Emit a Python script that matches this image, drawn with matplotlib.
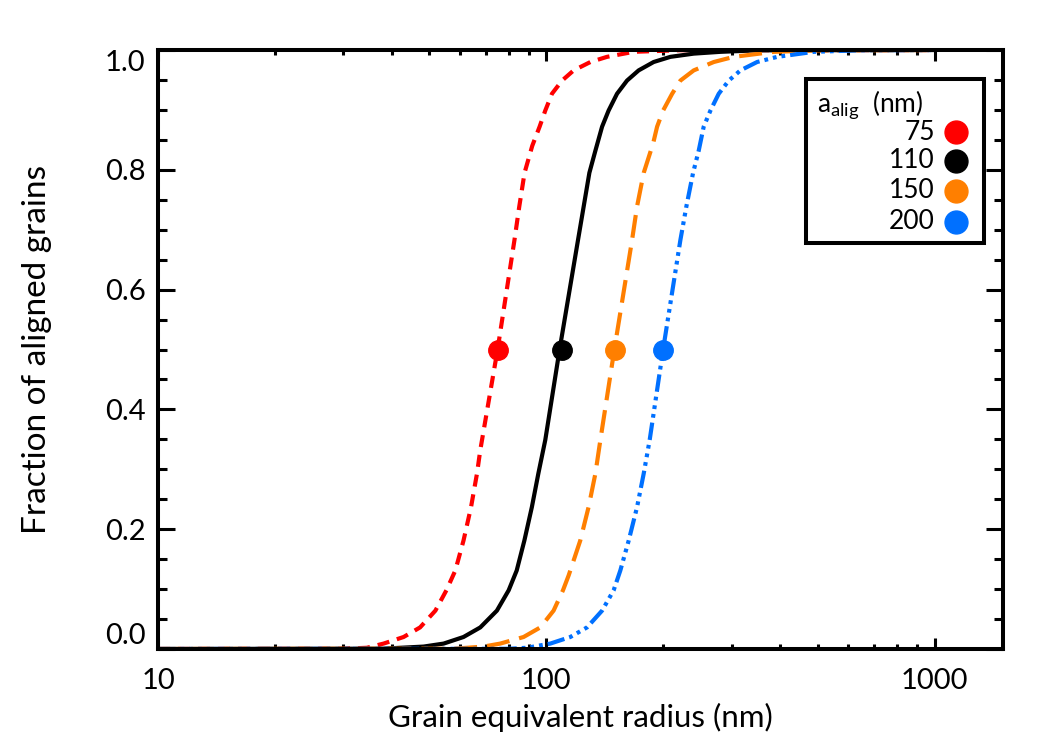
import matplotlib
matplotlib.use("Agg")
import matplotlib.pyplot as plt
from matplotlib.patches import Rectangle
from matplotlib.ticker import FixedLocator, NullFormatter
import numpy as np

plt.rcParams['font.family'] = ['Lato', 'DejaVu Sans']
plt.rcParams['mathtext.default'] = 'regular'

# alignment radius of each curve (nm)
a_alig = [75, 110, 150, 200]
a_labels = ['75', '110', '150', '200']

r_red = [10, 30, 34.5, 38.1, 42.9, 47.3, 51.8, 55.3, 58.3, 61.2, 64.0, 66.3, 67.6, 74.9,
         82.8, 85.2, 87.9, 92.0, 96.1, 99.4, 103.4, 109.8, 117.6, 129.9, 143.3, 167.9, 220, 1000]
f_red = [0.0, 0.0003, 0.002, 0.009, 0.020, 0.036, 0.064, 0.098, 0.131, 0.181, 0.237, 0.293, 0.332, 0.5,
         0.683, 0.739, 0.795, 0.840, 0.872, 0.899, 0.927, 0.949, 0.966, 0.980, 0.9886, 0.997, 0.9997, 1.0]

r_black = [10, 38, 48.3, 54.4, 61.2, 67.6, 74.6, 80.0, 83.9, 87.8, 91.8, 95.4, 99.4, 108.2,
           120.7, 129.1, 133.8, 139.2, 144.7, 152.1, 161.4, 172.9, 189.0, 208.7, 239.7, 280.9, 350, 1000]
f_black = [0.0, 0.0005, 0.004, 0.009, 0.020, 0.036, 0.064, 0.098, 0.131, 0.181, 0.237, 0.293, 0.349, 0.5,
           0.683, 0.795, 0.832, 0.872, 0.899, 0.927, 0.949, 0.966, 0.980, 0.9886, 0.994, 0.997, 0.9995, 1.0]

r_orange = [10, 58, 68.9, 76.1, 87.4, 96.5, 104.4, 110.4, 114.2, 122.3, 128.5, 133.8, 137.8, 149.7,
            166.3, 171.3, 178.2, 188.4, 192.9, 199.9, 210.9, 221.5, 239.7, 270, 303.9, 385.3, 500, 1000]
f_orange = [0.0, 0.0005, 0.004, 0.009, 0.020, 0.036, 0.064, 0.098, 0.123, 0.181, 0.237, 0.293, 0.349, 0.5,
            0.683, 0.739, 0.795, 0.844, 0.872, 0.899, 0.927, 0.949, 0.966, 0.980, 0.9886, 0.997, 0.9995, 1.0]

r_blue = [10, 80, 89.2, 102.4, 115.3, 127.3, 139.2, 149.1, 155.1, 163, 171.3, 178.2, 184.6, 199.9,
          221.5, 229.5, 238.8, 246.9, 254.3, 264.7, 278, 295.1, 316.2, 349.1, 393.3, 488.8, 650, 1000]
f_blue = [0.0, 0.0003, 0.002, 0.009, 0.020, 0.036, 0.064, 0.098, 0.131, 0.181, 0.237, 0.293, 0.349, 0.5,
          0.683, 0.739, 0.795, 0.832, 0.872, 0.899, 0.927, 0.949, 0.966, 0.980, 0.9886, 0.997, 0.9997, 1.0]

colors = ['#ff0000', '#000000', '#ff7f00', '#0070ff']

fig = plt.figure(figsize=(10.5, 7.5), dpi=100)
ax = fig.add_axes([0.1505, 0.1347, 0.8047, 0.7986])

lw = 3
ax.plot(r_red, f_red, color=colors[0], lw=lw, dashes=(2.9, 1.9), dash_capstyle='butt')
ax.plot(r_black, f_black, color=colors[1], lw=lw)
ax.plot(r_orange, f_orange, color=colors[2], lw=lw, dashes=(5.5, 2.4), dash_capstyle='butt')
ax.plot(r_blue, f_blue, color=colors[3], lw=lw,
        dashes=(4.2, 1.2, 0.9, 1.2, 0.9, 1.2, 0.9, 1.2), dash_capstyle='butt')

# half-alignment points
for a, c in zip(a_alig, colors):
    ax.plot([a], [0.5], 'o', color=c, ms=14, zorder=4)

ax.set_xscale('log')
ax.set_xlim(10, 1500)
ax.set_ylim(0, 1)

ax.xaxis.set_major_locator(FixedLocator([10, 100, 1000]))
ax.set_xticklabels(['10', '100', '1000'])
ax.xaxis.set_minor_locator(FixedLocator([v * d for d in [10, 100, 1000] for v in range(2, 10) if v * d < 1500]))
ax.xaxis.set_minor_formatter(NullFormatter())

ax.set_yticks([0.0, 0.2, 0.4, 0.6, 0.8, 1.0])
ax.set_yticklabels(['0.0', '0.2', '0.4', '0.6', '0.8', '1.0'])
ax.yaxis.set_minor_locator(FixedLocator(np.arange(0.05, 1.0, 0.05)))

for s in ax.spines.values():
    s.set_linewidth(2.9)

ax.tick_params(which='both', direction='in', top=True, right=True, width=2.2, labelsize=21)
ax.tick_params(axis='y', which='major', length=12, pad=9)
ax.tick_params(axis='y', which='minor', length=6.5)
ax.tick_params(axis='x', which='major', length=8, pad=14)
ax.tick_params(axis='x', which='minor', length=3.8)

ylabs = ax.get_yticklabels()
ylabs[0].set_va('bottom')
ylabs[-1].set_va('top')

ax.set_xlabel('Grain equivalent radius (nm)', fontsize=22.5, labelpad=6)
ax.set_ylabel('Fraction of aligned grains', fontsize=24, labelpad=38)

# legend box drawn by hand
ax.add_patch(Rectangle((0.7669, 0.677), 0.2106, 0.274, transform=ax.transAxes,
                       facecolor='white', edgecolor='black', lw=2.9, zorder=6))
ax.text(0.7795, 0.908, r'a$_{alig}$  (nm)', transform=ax.transAxes, fontsize=19,
        ha='left', va='center', zorder=7)
row_y = [0.863, 0.815, 0.765, 0.713]
for lab, c, y in zip(a_labels, colors, row_y):
    ax.text(0.9195, y, lab, transform=ax.transAxes, fontsize=19, ha='right', va='center', zorder=7)
    ax.plot([0.944], [y], 'o', color=c, ms=16.5, transform=ax.transAxes, zorder=7, clip_on=False)

fig.savefig('out.png', dpi=100)
